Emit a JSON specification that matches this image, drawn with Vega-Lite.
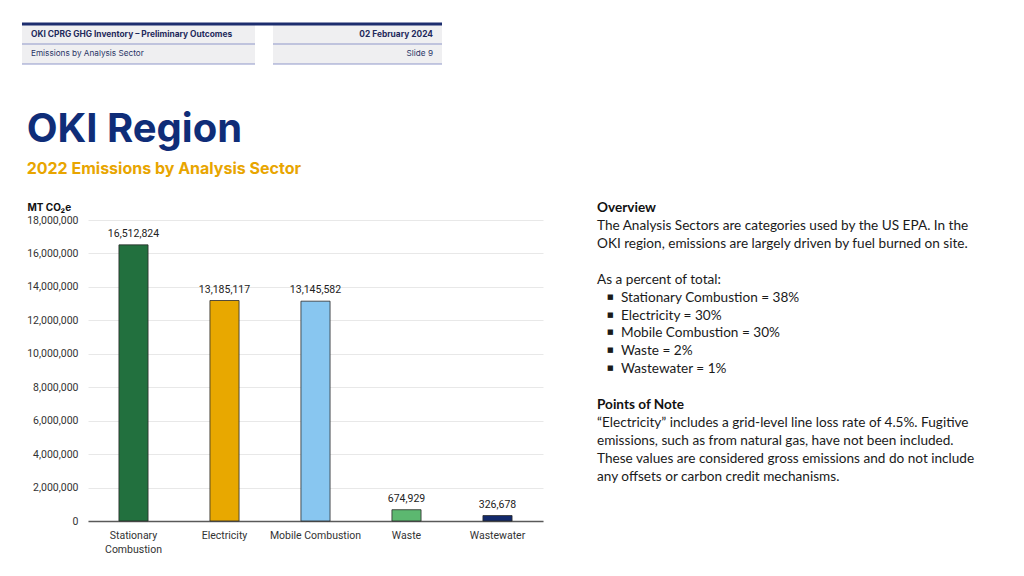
{
  "$schema": "https://vega.github.io/schema/vega-lite/v6.json",
  "background": "white",
  "padding": {"left": 20, "top": 22, "right": 10, "bottom": 4},
  "config": {"view": {"stroke": null}, "font": "Inter"},
  "datasets": {
    "hdrL": [
      {"row": 1, "text": "OKI CPRG GHG Inventory – Preliminary Outcomes"},
      {"row": 2, "text": "Emissions by Analysis Sector"}
    ],
    "hdrR": [
      {"row": 1, "text": "02 February 2024"},
      {"row": 2, "text": "Slide 9"}
    ],
    "emissions": [
      {"sector": "Stationary Combustion", "emissions": 16512824},
      {"sector": "Electricity", "emissions": 13185117},
      {"sector": "Mobile Combustion", "emissions": 13145582},
      {"sector": "Waste", "emissions": 674929},
      {"sector": "Wastewater", "emissions": 326678}
    ],
    "notes": [
      {"line": 0, "text": "Overview", "kind": "heading"},
      {"line": 1, "text": "The Analysis Sectors are categories used by the US EPA. In the", "kind": "body"},
      {"line": 2, "text": "OKI region, emissions are largely driven by fuel burned on site.", "kind": "body"},
      {"line": 4, "text": "As a percent of total:", "kind": "body"},
      {"line": 5, "text": "Stationary Combustion = 38%", "kind": "bullet"},
      {"line": 6, "text": "Electricity = 30%", "kind": "bullet"},
      {"line": 7, "text": "Mobile Combustion = 30%", "kind": "bullet"},
      {"line": 8, "text": "Waste = 2%", "kind": "bullet"},
      {"line": 9, "text": "Wastewater = 1%", "kind": "bullet"},
      {"line": 11, "text": "Points of Note", "kind": "heading"},
      {"line": 12, "text": "“Electricity” includes a grid-level line loss rate of 4.5%. Fugitive", "kind": "body"},
      {"line": 13, "text": "emissions, such as from natural gas, have not been included.", "kind": "body"},
      {"line": 14, "text": "These values are considered gross emissions and do not include", "kind": "body"},
      {"line": 15, "text": "any offsets or carbon credit mechanisms.", "kind": "body"}
    ]
  },
  "spacing": 44,
  "vconcat": [
    {
      "spacing": 0,
      "bounds": "flush",
      "hconcat": [
        {
          "width": 167, "height": 40,
          "data": {"name": "hdrL"},
          "layer": [
            {"mark": {"type": "rect", "color": "#efeff1"},
             "encoding": {
               "y": {"field": "row", "type": "ordinal", "axis": null, "scale": {"domain": [1, 2], "paddingInner": 0, "paddingOuter": 0}},
               "x": {"datum": 0, "type": "quantitative", "scale": {"domain": [0.2833, 1], "nice": false, "zero": false}, "axis": null},
               "x2": {"datum": 1}}},
            {"mark": {"type": "rule", "color": "#8f98c9", "strokeWidth": 1.2},
             "encoding": {
               "y": {"field": "row", "type": "ordinal", "bandPosition": 1, "axis": null, "scale": {"domain": [1, 2], "paddingInner": 0, "paddingOuter": 0}},
               "x": {"datum": 0, "type": "quantitative", "scale": {"domain": [0.2833, 1], "nice": false, "zero": false}, "axis": null},
               "x2": {"datum": 1}}},
            {"transform": [{"filter": "datum.row == 1"}],
             "mark": {"type": "rule", "color": "#1c2d6e", "strokeWidth": 3},
             "encoding": {
               "y": {"field": "row", "type": "ordinal", "bandPosition": 0, "axis": null, "scale": {"domain": [1, 2], "paddingInner": 0, "paddingOuter": 0}},
               "x": {"datum": 0, "type": "quantitative", "scale": {"domain": [0.2833, 1], "nice": false, "zero": false}, "axis": null},
               "x2": {"datum": 1}}},
            {"transform": [{"filter": "datum.row == 1"}],
             "mark": {"type": "text", "align": "left", "dx": 9, "fontSize": 8.4, "fontWeight": "bold", "color": "#1f2a5c"},
             "encoding": {
               "y": {"field": "row", "type": "ordinal", "axis": null, "scale": {"domain": [1, 2], "paddingInner": 0, "paddingOuter": 0}},
               "x": {"datum": 0, "type": "quantitative", "scale": {"domain": [0.2833, 1], "nice": false, "zero": false}, "axis": null},
               "text": {"field": "text"}}},
            {"transform": [{"filter": "datum.row == 2"}],
             "mark": {"type": "text", "align": "left", "dx": 9, "fontSize": 8.2, "color": "#2a3566"},
             "encoding": {
               "y": {"field": "row", "type": "ordinal", "axis": null, "scale": {"domain": [1, 2], "paddingInner": 0, "paddingOuter": 0}},
               "x": {"datum": 0, "type": "quantitative", "scale": {"domain": [0.2833, 1], "nice": false, "zero": false}, "axis": null},
               "text": {"field": "text"}}}
          ]
        },
        {
          "width": 18, "height": 40,
          "data": {"name": "hdrL"},
          "transform": [{"filter": "datum.row == 1"}],
          "mark": {"type": "rule", "color": "#1c2d6e", "strokeWidth": 3},
          "encoding": {"y": {"field": "row", "type": "ordinal", "bandPosition": 0, "axis": null, "scale": {"domain": [1, 2], "paddingInner": 0, "paddingOuter": 0}}}
        },
        {
          "width": 169, "height": 40,
          "data": {"name": "hdrR"},
          "layer": [
            {"mark": {"type": "rect", "color": "#efeff1"},
             "encoding": {
               "y": {"field": "row", "type": "ordinal", "axis": null, "scale": {"domain": [1, 2], "paddingInner": 0, "paddingOuter": 0}},
               "x": {"datum": 0, "type": "quantitative", "scale": {"domain": [0, 1], "nice": false}, "axis": null},
               "x2": {"datum": 1}}},
            {"mark": {"type": "rule", "color": "#8f98c9", "strokeWidth": 1.2},
             "encoding": {"y": {"field": "row", "type": "ordinal", "bandPosition": 1, "axis": null, "scale": {"domain": [1, 2], "paddingInner": 0, "paddingOuter": 0}}}},
            {"transform": [{"filter": "datum.row == 1"}],
             "mark": {"type": "rule", "color": "#1c2d6e", "strokeWidth": 3},
             "encoding": {"y": {"field": "row", "type": "ordinal", "bandPosition": 0, "axis": null, "scale": {"domain": [1, 2], "paddingInner": 0, "paddingOuter": 0}}}},
            {"transform": [{"filter": "datum.row == 1"}],
             "mark": {"type": "text", "align": "right", "dx": -9, "fontSize": 8.4, "fontWeight": "bold", "color": "#1f2a5c"},
             "encoding": {
               "y": {"field": "row", "type": "ordinal", "axis": null, "scale": {"domain": [1, 2], "paddingInner": 0, "paddingOuter": 0}},
               "x": {"datum": 1, "type": "quantitative", "scale": {"domain": [0, 1], "nice": false}, "axis": null},
               "text": {"field": "text"}}},
            {"transform": [{"filter": "datum.row == 2"}],
             "mark": {"type": "text", "align": "right", "dx": -9, "fontSize": 8.2, "color": "#2a3566"},
             "encoding": {
               "y": {"field": "row", "type": "ordinal", "axis": null, "scale": {"domain": [1, 2], "paddingInner": 0, "paddingOuter": 0}},
               "x": {"datum": 1, "type": "quantitative", "scale": {"domain": [0, 1], "nice": false}, "axis": null},
               "text": {"field": "text"}}}
          ]
        }
      ]
    },
    {
      "title": {
        "text": "OKI Region",
        "subtitle": "2022 Emissions by Analysis Sector",
        "anchor": "start",
        "dx": 0,
        "font": "Inter",
        "fontSize": 40,
        "fontWeight": "bold",
        "color": "#0f2d78",
        "subtitleFont": "Inter",
        "subtitleFontSize": 16,
        "subtitleFontWeight": "bold",
        "subtitleColor": "#e8a500",
        "subtitlePadding": 11,
        "offset": 24
      },
      "spacing": 54,
      "hconcat": [
        {
          "width": 455, "height": 301,
          "data": {"name": "emissions"},
          "encoding": {
            "x": {"field": "sector", "type": "nominal", "sort": null,
                  "scale": {"paddingInner": 0.68, "paddingOuter": 0.34},
                  "axis": {"title": null, "labelAngle": 0, "labelFont": "Roboto", "labelFontSize": 10.5, "labelColor": "#333333",
                           "ticks": false, "domainColor": "#595959", "domainWidth": 1.5, "labelPadding": 9, "labelLineHeight": 14,
                           "labelExpr": "datum.label == 'Stationary Combustion' ? ['Stationary', 'Combustion'] : datum.label"}},
            "y": {"field": "emissions", "type": "quantitative",
                  "scale": {"domain": [0, 18000000], "nice": false},
                  "axis": {"title": "MT CO₂e", "titleAngle": 0, "titleX": -61, "titleY": -10, "titleAlign": "left",
                           "titleBaseline": "alphabetic", "titleFont": "Inter", "titleFontSize": 10, "titleFontWeight": "bold", "titleColor": "#111111",
                           "values": [0, 2000000, 4000000, 6000000, 8000000, 10000000, 12000000, 14000000, 16000000, 18000000],
                           "format": ",d", "domain": false, "ticks": false, "labelPadding": 10,
                           "labelFont": "Roboto", "labelFontSize": 10.5, "labelColor": "#333333",
                           "gridColor": "#e8e8e8", "gridWidth": 1}}
          },
          "layer": [
            {"mark": {"type": "bar", "stroke": "#2a2a2a", "strokeWidth": 0.8},
             "encoding": {"color": {"field": "sector", "type": "nominal", "legend": null,
                                    "scale": {"domain": ["Stationary Combustion", "Electricity", "Mobile Combustion", "Waste", "Wastewater"],
                                              "range": ["#22703e", "#e8a800", "#88c6f0", "#5cb870", "#12296b"]}}}},
            {"mark": {"type": "text", "baseline": "middle", "dy": -11, "font": "Roboto", "fontSize": 10.5, "color": "#222222"},
             "encoding": {"text": {"field": "emissions", "type": "quantitative", "format": ",d"}}}
          ]
        },
        {
          "width": 400, "height": 301,
          "data": {"name": "notes"},
          "layer": [
            {"transform": [{"filter": "datum.kind == 'heading'"}],
             "mark": {"type": "text", "align": "left", "font": "Lato", "fontSize": 13.6, "fontWeight": "bold", "color": "#111111"},
             "encoding": {
               "y": {"field": "line", "type": "quantitative", "axis": null, "scale": {"domain": [0.67, 17.46], "reverse": true, "nice": false}},
               "x": {"datum": 0, "type": "quantitative", "axis": null, "scale": {"domain": [0, 1], "nice": false}},
               "text": {"field": "text"}}},
            {"transform": [{"filter": "datum.kind == 'body'"}],
             "mark": {"type": "text", "align": "left", "font": "Lato", "fontSize": 13.6, "color": "#1a1a1a"},
             "encoding": {
               "y": {"field": "line", "type": "quantitative", "axis": null, "scale": {"domain": [0.67, 17.46], "reverse": true, "nice": false}},
               "x": {"datum": 0, "type": "quantitative", "axis": null, "scale": {"domain": [0, 1], "nice": false}},
               "text": {"field": "text"}}},
            {"transform": [{"filter": "datum.kind == 'bullet'"}],
             "mark": {"type": "text", "align": "left", "dx": 24, "font": "Lato", "fontSize": 13.6, "color": "#1a1a1a"},
             "encoding": {
               "y": {"field": "line", "type": "quantitative", "axis": null, "scale": {"domain": [0.67, 17.46], "reverse": true, "nice": false}},
               "x": {"datum": 0, "type": "quantitative", "axis": null, "scale": {"domain": [0, 1], "nice": false}},
               "text": {"field": "text"}}},
            {"transform": [{"filter": "datum.kind == 'bullet'"}],
             "mark": {"type": "text", "align": "left", "dx": 10, "dy": -1, "font": "DejaVu Sans", "fontSize": 7, "color": "#1a1a1a", "text": "■"},
             "encoding": {
               "y": {"field": "line", "type": "quantitative", "axis": null, "scale": {"domain": [0.67, 17.46], "reverse": true, "nice": false}},
               "x": {"datum": 0, "type": "quantitative", "axis": null, "scale": {"domain": [0, 1], "nice": false}}}}
          ]
        }
      ]
    }
  ]
}
